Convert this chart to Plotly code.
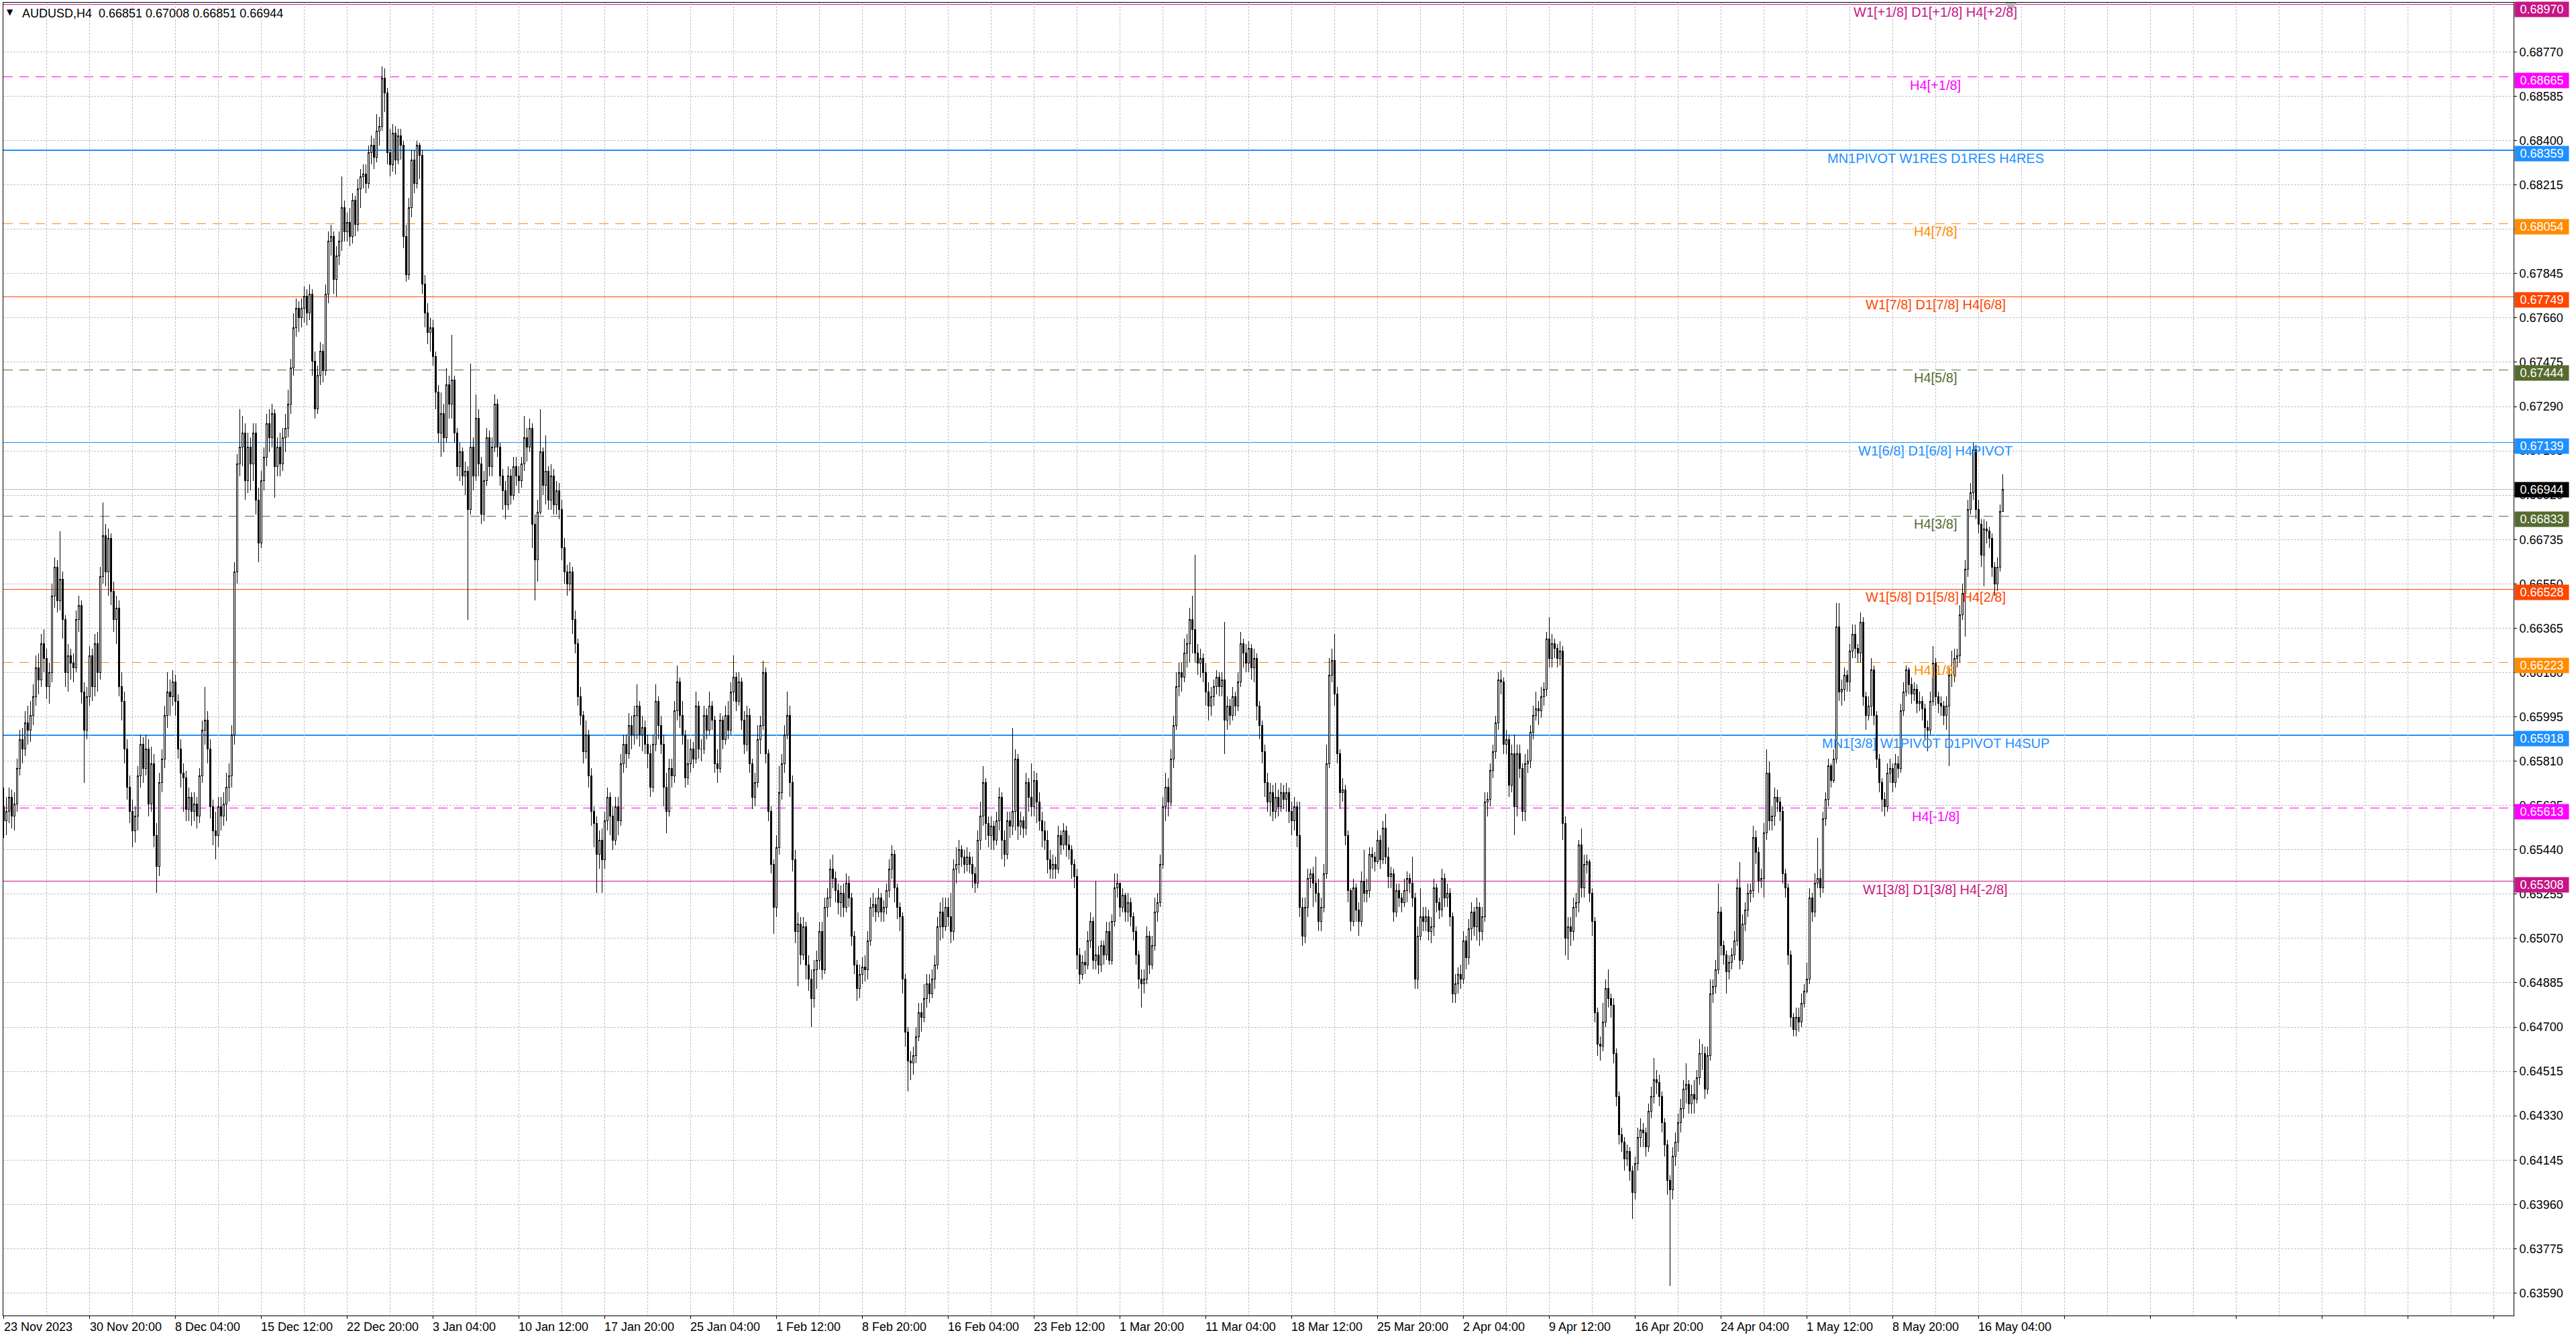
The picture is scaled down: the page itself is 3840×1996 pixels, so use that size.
import plotly.graph_objects as go

# ---------------- data (prices in pips, 1 pip = 0.0001) ----------------
first_open = 6562
closes = [
6556,6560,6566,6558,6563,6578,6590,6586,6597,6594,
6600,6608,6620,6615,6630,6624,6612,6618,6650,6662,
6648,6657,6640,6618,6625,6622,6620,6640,6646,6610,
6594,6608,6625,6612,6630,6618,6658,6675,6660,6674,
6652,6640,6645,6612,6606,6586,6570,6560,6552,6558,
6575,6588,6578,6586,6563,6580,6550,6537,6572,6582,
6600,6610,6608,6614,6606,6586,6576,6574,6561,6566,
6560,6563,6558,6575,6594,6598,6586,6562,6552,6550,
6562,6558,6563,6570,6575,6592,6660,6705,6712,6718,
6698,6712,6705,6718,6690,6672,6698,6708,6722,6716,
6726,6704,6712,6705,6716,6720,6730,6745,6762,6770,
6766,6770,6775,6768,6776,6748,6728,6742,6752,6744,
6776,6798,6800,6782,6792,6798,6812,6802,6806,6800,
6815,6805,6820,6825,6826,6822,6835,6838,6833,6844,
6846,6866,6860,6835,6830,6843,6832,6842,6838,6800,
6784,6812,6832,6822,6838,6834,6780,6768,6760,6762,
6750,6735,6718,6726,6716,6738,6730,6740,6718,6704,
6710,6700,6702,6686,6712,6700,6724,6705,6684,6698,
6716,6704,6712,6730,6712,6700,6694,6688,6700,6692,
6704,6700,6698,6705,6716,6712,6720,6680,6665,6685,
6710,6696,6702,6690,6700,6688,6694,6686,6670,6660,
6655,6660,6640,6630,6608,6600,6585,6592,6575,6560,
6555,6542,6548,6540,6556,6566,6558,6548,6562,6556,
6580,6588,6584,6596,6592,6600,6604,6592,6595,6588,
6584,6570,6588,6606,6596,6588,6570,6560,6578,6575,
6602,6614,6600,6592,6574,6580,6586,6582,6604,6586,
6586,6600,6594,6604,6598,6580,6578,6598,6590,6600,
6594,6610,6616,6606,6614,6598,6588,6600,6580,6566,
6572,6590,6596,6618,6584,6560,6538,6520,6545,6568,
6580,6592,6600,6572,6540,6510,6513,6500,6512,6496,
6490,6482,6494,6498,6510,6494,6520,6524,6536,6532,
6527,6522,6526,6520,6530,6524,6508,6496,6486,6492,
6495,6494,6506,6520,6521,6518,6524,6518,6520,6527,
6536,6542,6528,6520,6516,6490,6468,6456,6455,6458,
6466,6476,6474,6482,6488,6484,6490,6496,6512,6518,
6512,6520,6516,6510,6536,6538,6544,6541,6538,6541,
6538,6534,6530,6548,6558,6572,6555,6550,6554,6548,
6556,6566,6548,6542,6556,6554,6560,6582,6554,6556,
6553,6572,6566,6562,6573,6564,6556,6552,6548,6540,
6536,6538,6536,6550,6546,6552,6546,6544,6538,6533,
6500,6492,6497,6496,6506,6514,6498,6500,6496,6504,
6500,6510,6498,6514,6528,6530,6520,6525,6518,6522,
6516,6510,6500,6490,6488,6490,6508,6496,6504,6518,
6522,6538,6562,6570,6564,6582,6596,6612,6618,6616,
6626,6630,6640,6636,6626,6622,6624,6618,6610,6604,
6608,6612,6616,6612,6615,6598,6604,6600,6608,6604,
6614,6630,6626,6622,6628,6620,6624,6604,6596,6585,
6572,6564,6568,6560,6566,6562,6568,6565,6568,6560,
6556,6562,6550,6520,6508,6520,6532,6534,6530,6526,
6514,6520,6534,6580,6617,6623,6609,6584,6568,6569,
6550,6527,6514,6528,6519,6514,6531,6526,6527,6542,
6541,6539,6548,6540,6553,6541,6533,6534,6518,6527,
6524,6522,6527,6532,6530,6524,6490,6508,6516,6514,
6516,6510,6512,6528,6522,6519,6532,6524,6526,6516,
6484,6488,6492,6490,6506,6499,6511,6518,6512,6520,
6510,6516,6564,6565,6577,6585,6597,6615,6614,6588,
6590,6571,6584,6562,6584,6578,6560,6580,6581,6593,
6600,6603,6602,6608,6611,6632,6624,6630,6628,6624,
6627,6555,6507,6512,6510,6520,6522,6546,6528,6538,
6539,6526,6514,6476,6463,6462,6472,6486,6482,6479,
6459,6441,6425,6422,6415,6418,6410,6401,6413,6424,
6427,6426,6420,6435,6441,6448,6447,6441,6430,6421,
6406,6402,6416,6422,6430,6436,6444,6446,6438,6442,
6440,6449,6459,6459,6444,6458,6484,6487,6494,6518,
6504,6500,6493,6497,6500,6506,6528,6498,6513,6519,
6526,6527,6549,6543,6531,6532,6551,6576,6556,6558,
6566,6564,6560,6534,6528,6500,6474,6469,6474,6472,
6480,6485,6490,6524,6518,6530,6532,6528,6557,6565,
6579,6573,6582,6637,6610,6611,6617,6614,6627,6634,
6628,6626,6639,6608,6600,6604,6619,6600,6582,6572,
6565,6562,6576,6578,6572,6580,6578,6602,6610,6619,
6613,6609,6611,6605,6606,6603,6595,6594,6606,6622,
6608,6605,6604,6600,6604,6617,6617,6624,6625,6642,
6651,6661,6686,6693,6711,6686,6680,6667,6678,6677,
6674,6662,6655,6662,6685.1,6694.4]

highs = [
6570,6566,6570,6569,6568,6582,6594,6595,6602,6604,
6606,6613,6625,6626,6634,6636,6628,6622,6655,6666,
6665,6677,6660,6642,6630,6628,6626,6644,6650,6648,
6614,6612,6629,6628,6634,6635,6662,6689,6680,6678,
6676,6656,6650,6648,6618,6610,6590,6575,6565,6562,
6579,6592,6591,6592,6590,6587,6584,6555,6576,6586,
6604,6618,6615,6619,6617,6609,6590,6580,6577,6570,
6568,6568,6566,6578,6598,6612,6602,6590,6565,6560,
6566,6566,6568,6576,6580,6596,6664,6709,6728,6725,
6722,6718,6716,6722,6722,6695,6702,6712,6726,6728,
6730,6728,6716,6718,6720,6726,6736,6749,6768,6774,
6773,6774,6779,6778,6780,6778,6752,6746,6756,6755,
6780,6802,6805,6802,6796,6802,6825,6815,6810,6812,
6818,6817,6824,6828,6830,6830,6838,6842,6841,6851,
6850,6871,6870,6862,6845,6847,6846,6845,6845,6840,
6805,6816,6836,6836,6840,6839,6836,6784,6772,6766,
6765,6752,6738,6735,6730,6745,6742,6759,6742,6720,
6714,6712,6706,6704,6747,6716,6734,6728,6708,6702,
6720,6719,6716,6734,6732,6714,6703,6698,6704,6703,
6708,6708,6704,6708,6725,6720,6724,6722,6684,6690,
6728,6712,6717,6704,6705,6703,6698,6697,6690,6674,
6663,6664,6662,6644,6632,6612,6602,6598,6594,6578,
6562,6558,6552,6553,6560,6570,6568,6562,6566,6566,
6584,6592,6592,6601,6600,6604,6613,6606,6600,6598,
6592,6588,6592,6613,6608,6600,6592,6576,6582,6582,
6606,6621,6616,6606,6594,6590,6590,6589,6610,6606,
6590,6604,6603,6610,6606,6600,6586,6601,6600,6604,
6606,6614,6625,6618,6618,6616,6602,6604,6603,6582,
6576,6596,6600,6623,6620,6586,6562,6540,6550,6579,
6584,6596,6610,6604,6575,6544,6518,6516,6516,6514,
6500,6494,6498,6502,6514,6514,6524,6528,6540,6542,
6535,6530,6529,6530,6534,6533,6526,6510,6498,6496,
6499,6500,6510,6524,6526,6524,6528,6526,6523,6530,
6540,6546,6544,6530,6522,6518,6492,6470,6460,6462,
6470,6480,6480,6488,6492,6492,6494,6500,6516,6522,
6524,6524,6524,6526,6540,6545,6548,6546,6544,6545,
6543,6541,6537,6552,6564,6579,6574,6558,6558,6556,
6560,6570,6568,6552,6560,6560,6595,6586,6584,6560,
6558,6576,6574,6580,6577,6576,6568,6560,6556,6552,
6544,6542,6541,6554,6552,6555,6554,6550,6546,6540,
6536,6503,6500,6502,6510,6518,6516,6531,6504,6506,
6506,6514,6514,6517,6534,6534,6530,6528,6526,6526,
6524,6518,6512,6502,6494,6494,6512,6510,6508,6524,
6526,6542,6566,6576,6574,6586,6600,6618,6622,6622,
6632,6634,6645,6650,6667,6630,6628,6626,6622,6614,
6612,6615,6619,6618,6618,6639,6608,6607,6612,6610,
6618,6635,6632,6630,6631,6630,6628,6626,6606,6598,
6588,6576,6572,6571,6572,6569,6572,6571,6572,6570,
6564,6566,6564,6564,6524,6524,6536,6536,6537,6541,
6532,6524,6538,6588,6624,6628,6634,6612,6586,6574,
6571,6552,6528,6532,6530,6522,6535,6544,6532,6545,
6545,6543,6552,6550,6556,6559,6545,6537,6536,6530,
6530,6526,6532,6535,6534,6541,6526,6512,6528,6520,
6520,6519,6516,6532,6530,6524,6536,6534,6530,6528,
6518,6492,6495,6496,6510,6508,6515,6522,6520,6524,
6522,6520,6568,6568,6580,6588,6600,6618,6619,6616,
6594,6592,6588,6592,6588,6588,6580,6584,6586,6596,
6604,6610,6606,6612,6614,6635,6641,6634,6632,6630,
6631,6629,6558,6516,6516,6524,6526,6548,6553,6542,
6542,6540,6528,6516,6478,6466,6480,6490,6494,6484,
6482,6461,6443,6428,6424,6421,6420,6412,6416,6428,
6432,6430,6428,6438,6445,6457,6452,6450,6443,6432,
6423,6408,6420,6426,6434,6440,6448,6455,6448,6446,
6448,6452,6465,6463,6462,6462,6490,6490,6498,6530,
6520,6506,6502,6500,6503,6510,6532,6539,6517,6522,
6530,6530,6554,6552,6545,6536,6555,6586,6581,6562,
6570,6569,6566,6562,6536,6530,6502,6476,6478,6478,
6484,6488,6497,6528,6526,6534,6549,6536,6560,6568,
6582,6580,6586,6647,6647,6615,6620,6619,6630,6638,
6638,6630,6643,6641,6610,6608,6624,6621,6602,6584,
6574,6568,6580,6582,6580,6584,6583,6605,6614,6621,
6620,6616,6614,6613,6610,6608,6605,6598,6610,6629,
6624,6610,6608,6606,6608,6620,6627,6628,6628,6646,
6655,6665,6690,6697,6714,6713,6690,6682,6682,6681,
6679,6676,6664,6666,6688,6700.8]

lows = [
6549,6550,6555,6553,6552,6560,6575,6580,6583,6588,
6589,6596,6604,6609,6612,6618,6607,6605,6614,6645,
6643,6644,6632,6612,6610,6615,6614,6618,6635,6605,
6572,6590,6604,6606,6608,6610,6615,6655,6654,6650,
6646,6635,6630,6608,6598,6580,6565,6555,6545,6547,
6552,6570,6572,6575,6558,6560,6545,6526,6533,6568,
6578,6595,6600,6604,6600,6582,6570,6560,6556,6556,
6554,6556,6553,6555,6572,6588,6580,6557,6546,6540,
6545,6552,6554,6556,6564,6570,6588,6655,6700,6704,
6690,6693,6694,6698,6684,6664,6670,6694,6704,6710,
6712,6691,6700,6700,6702,6710,6716,6726,6742,6758,
6760,6762,6764,6763,6765,6742,6724,6726,6738,6739,
6742,6772,6792,6776,6775,6788,6794,6798,6798,6796,
6797,6800,6802,6812,6820,6818,6820,6830,6828,6831,
6838,6844,6852,6830,6825,6827,6826,6830,6832,6795,
6781,6782,6808,6818,6820,6824,6776,6762,6755,6752,
6746,6728,6714,6708,6710,6714,6724,6724,6714,6700,
6698,6696,6692,6640,6684,6694,6698,6700,6680,6681,
6696,6700,6700,6710,6708,6696,6686,6682,6686,6688,
6690,6696,6693,6695,6702,6706,6710,6670,6648,6656,
6684,6692,6688,6686,6686,6684,6684,6682,6665,6655,
6650,6652,6634,6626,6604,6596,6580,6582,6570,6554,
6545,6526,6536,6526,6536,6552,6550,6544,6546,6550,
6554,6576,6578,6582,6586,6588,6590,6587,6585,6584,
6578,6566,6568,6585,6590,6584,6562,6551,6558,6570,
6572,6598,6595,6588,6570,6571,6576,6578,6580,6582,
6581,6584,6590,6592,6594,6576,6572,6576,6586,6588,
6590,6592,6606,6602,6604,6594,6584,6585,6576,6561,
6562,6570,6584,6594,6580,6556,6534,6509,6516,6542,
6565,6576,6590,6566,6535,6505,6487,6496,6498,6490,
6485,6470,6478,6486,6494,6490,6492,6516,6520,6528,
6522,6517,6516,6516,6518,6520,6504,6492,6481,6482,
6488,6489,6490,6504,6516,6514,6516,6514,6514,6517,
6524,6532,6522,6515,6510,6484,6462,6443,6448,6450,
6455,6464,6468,6472,6478,6480,6482,6486,6494,6506,
6507,6510,6512,6505,6506,6530,6534,6537,6534,6535,
6534,6528,6526,6528,6544,6554,6548,6545,6544,6544,
6546,6552,6540,6537,6540,6549,6550,6552,6548,6550,
6549,6550,6560,6558,6558,6555,6552,6545,6544,6534,
6532,6532,6532,6534,6542,6544,6541,6540,6532,6528,
6494,6488,6490,6492,6494,6503,6494,6494,6492,6493,
6496,6498,6496,6496,6512,6524,6516,6518,6514,6514,
6512,6506,6496,6486,6478,6484,6488,6492,6494,6502,
6514,6520,6536,6556,6558,6562,6578,6594,6608,6610,
6614,6620,6622,6626,6622,6617,6616,6614,6604,6598,
6600,6604,6609,6608,6608,6584,6594,6596,6598,6600,
6602,6612,6620,6618,6618,6615,6614,6598,6590,6580,
6566,6560,6558,6556,6557,6558,6560,6561,6560,6555,
6550,6552,6545,6516,6504,6505,6516,6528,6520,6522,
6510,6510,6518,6532,6578,6614,6604,6580,6561,6564,
6546,6522,6510,6512,6514,6508,6512,6522,6522,6524,
6536,6535,6538,6536,6538,6538,6528,6528,6514,6516,
6520,6518,6520,6522,6526,6520,6486,6486,6506,6510,
6510,6506,6505,6508,6518,6515,6516,6520,6520,6512,
6480,6480,6484,6486,6488,6494,6496,6506,6508,6506,
6504,6506,6514,6558,6562,6574,6582,6594,6609,6584,
6584,6566,6568,6550,6558,6574,6556,6556,6576,6578,
6590,6598,6596,6599,6604,6608,6620,6620,6624,6620,
6621,6548,6500,6498,6504,6506,6516,6518,6524,6524,
6534,6522,6508,6472,6458,6456,6460,6470,6478,6474,
6455,6437,6421,6418,6410,6412,6406,6390,6398,6410,
6420,6420,6416,6418,6432,6438,6442,6437,6426,6416,
6400,6362,6398,6412,6418,6426,6432,6438,6434,6434,
6434,6438,6446,6452,6440,6442,6456,6480,6484,6492,
6500,6496,6484,6490,6494,6498,6504,6494,6496,6510,
6516,6522,6524,6538,6526,6528,6524,6548,6552,6552,
6554,6560,6556,6530,6524,6496,6470,6466,6466,6468,
6470,6478,6484,6488,6514,6516,6528,6524,6526,6554,
6562,6570,6572,6580,6606,6604,6606,6610,6610,6624,
6624,6622,6622,6604,6594,6598,6600,6596,6578,6568,
6560,6558,6560,6572,6568,6570,6574,6576,6600,6608,
6609,6605,6606,6601,6602,6598,6590,6585,6592,6604,
6604,6601,6600,6596,6594,6579,6612,6614,6620,6622,
6640,6633,6658,6684,6690,6682,6676,6662,6654,6672,
6670,6658,6650,6652,6660,6685.1]

time_labels = ["23 Nov 2023", "30 Nov 20:00", "8 Dec 04:00", "15 Dec 12:00", "22 Dec 20:00",
               "3 Jan 04:00", "10 Jan 12:00", "17 Jan 20:00", "25 Jan 04:00", "1 Feb 12:00",
               "8 Feb 20:00", "16 Feb 04:00", "23 Feb 12:00", "1 Mar 20:00", "11 Mar 04:00",
               "18 Mar 12:00", "25 Mar 20:00", "2 Apr 04:00", "9 Apr 12:00", "16 Apr 20:00",
               "24 Apr 04:00", "1 May 12:00", "8 May 20:00", "16 May 04:00"]
bars_per_label = 32

price_ticks = [0.63590, 0.63775, 0.63960, 0.64145, 0.64330, 0.64515, 0.64700, 0.64885,
               0.65070, 0.65255, 0.65440, 0.65625, 0.65810, 0.65995, 0.66180, 0.66365,
               0.66550, 0.66735, 0.66920, 0.67105, 0.67290, 0.67475, 0.67660, 0.67845,
               0.68030, 0.68215, 0.68400, 0.68585, 0.68770]

level_values = [0.68970, 0.68665, 0.68359, 0.68054, 0.67749, 0.67444, 0.67139,
                0.66833, 0.66528, 0.66223, 0.65918, 0.65613, 0.65308]
level_texts = ["W1[+1/8] D1[+1/8] H4[+2/8]", "H4[+1/8]", "MN1PIVOT W1RES D1RES H4RES",
               "H4[7/8]", "W1[7/8] D1[7/8] H4[6/8]", "H4[5/8]", "W1[6/8] D1[6/8] H4PIVOT",
               "H4[3/8]", "W1[5/8] D1[5/8] H4[2/8]", "H4[1/8]",
               "MN1[3/8] W1PIVOT D1PIVOT H4SUP", "H4[-1/8]", "W1[3/8] D1[3/8] H4[-2/8]"]
level_colors = ["#C71585", "#FF00FF", "#1E90FF", "#FF8C00", "#FF4500", "#556B2F", "#1E90FF",
                "#556B2F", "#FF4500", "#FF8C00", "#1E90FF", "#FF00FF", "#C71585"]
level_dashed = [False, True, False, True, False, True, False, True, False, True, False, True, False]
level_widths = [1, 1, 2, 1, 1, 1, 1, 1, 1, 1, 2, 1, 1]

symbol = "AUDUSD,H4"
last_price = 0.66944

# ---------------- build ----------------
n = len(closes)
assert len(highs) == n and len(lows) == n, (n, len(highs), len(lows))
opens_p = [first_open] + closes[:-1]
o = [v / 10000 for v in opens_p]
c = [v / 10000 for v in closes]
h = [max(a, b, x / 10000) for a, b, x in zip(o, c, highs)]
l = [min(a, b, x / 10000) for a, b, x in zip(o, c, lows)]
xs = list(range(n))

FONT = "Arial, Liberation Sans, sans-serif"
GRID = "#C0C0C0"

fig = go.Figure()
fig.add_trace(go.Candlestick(
    x=xs, open=o, high=h, low=l, close=c,
    increasing=dict(line=dict(color="black", width=1), fillcolor="white"),
    decreasing=dict(line=dict(color="black", width=1), fillcolor="black"),
    whiskerwidth=0, showlegend=False, hoverinfo="skip"))

shapes = []
for v, col, dsh, w in zip(level_values, level_colors, level_dashed, level_widths):
    shapes.append(dict(type="line", xref="paper", x0=0, x1=1, yref="y", y0=v, y1=v,
                       layer="between",
                       line=dict(color=col, width=w, dash="14px,10px" if dsh else "solid")))
shapes.append(dict(type="line", xref="paper", x0=0, x1=1, yref="y", y0=last_price, y1=last_price,
                   layer="between", line=dict(color="#C0C0C0", width=1)))
# chart-shift marker at the top frame
shapes.append(dict(type="path", xref="x", yref="paper", xsizemode="pixel", ysizemode="pixel",
                   xanchor=n + 2, yanchor=1, path="M -8.5 0 L 8.5 0 L 0 -12 Z",
                   fillcolor="#B4B4B4", line=dict(width=0)))

annotations = []
label_x = 720
for v, t, col in zip(level_values, level_texts, level_colors):
    annotations.append(dict(x=label_x, y=v, xref="x", yref="y", text=t, showarrow=False,
                            xanchor="center", yanchor="middle", yshift=-12,
                            font=dict(family=FONT, size=20, color=col)))

box_vals = level_values[:7] + [last_price] + level_values[7:]
box_cols = level_colors[:7] + ["#000000"] + level_colors[7:]
for v, col in zip(box_vals, box_cols):
    if v == max(box_vals):
        ys = -8
    elif v == last_price:
        ys = 0
    else:
        ys = -5
    annotations.append(dict(x=1, y=v, xref="paper", yref="y", text=f"{v:.5f}", showarrow=False,
                            xanchor="left", yanchor="middle", xshift=1, yshift=ys,
                            width=76, height=18, borderpad=2, align="center",
                            bgcolor=col, font=dict(family=FONT, size=18, color="white")))

for k, t in enumerate(time_labels):
    annotations.append(dict(x=k * bars_per_label, y=0, xref="x", yref="paper", text=t,
                            showarrow=False, xanchor="left", yanchor="middle", yshift=-17,
                            xshift=-2, font=dict(family=FONT, size=18, color="black")))

annotations.append(dict(x=0, y=1, xref="paper", yref="paper",
                        text=symbol + "\u00a0\u00a0" + " ".join(f"{v / 10000:.5f}" for v in
                                                              [opens_p[-1], highs[-1], lows[-1], closes[-1]]),
                        showarrow=False, xanchor="left", yanchor="middle", xshift=26, yshift=-16,
                        font=dict(family=FONT, size=18, color="black")))
annotations.append(dict(x=0, y=1, xref="paper", yref="paper", text="\u25BC", showarrow=False,
                        xanchor="left", yanchor="middle", xshift=3, yshift=-14,
                        font=dict(family="DejaVu Sans", size=12, color="black")))

fig.update_layout(
    width=3840, height=1996,
    margin=dict(l=5, r=93, t=4, b=35),
    paper_bgcolor="white", plot_bgcolor="white",
    shapes=shapes, annotations=annotations,
    showlegend=False,
    boxgap=0.5, boxgroupgap=0,
    xaxis=dict(range=[-0.125, 935.4], rangeslider=dict(visible=False),
               tickmode="array", tickvals=list(range(0, 936, bars_per_label)),
               showticklabels=False, ticks="outside", ticklen=4, tickcolor="black",
               showgrid=True, gridcolor=GRID, griddash="3px,2px", gridwidth=1,
               minor=dict(tick0=0, dtick=16, showgrid=True, gridcolor=GRID,
                          griddash="3px,2px", gridwidth=1, ticks=""),
               showline=True, mirror=True, linecolor="black", linewidth=1,
               zeroline=False, fixedrange=True),
    yaxis=dict(side="right", range=[0.63496, 0.689756],
               tickmode="array", tickvals=price_ticks,
               ticktext=[f"{v:.5f}" for v in price_ticks],
               tickfont=dict(family=FONT, size=18, color="black"),
               ticks="outside", ticklen=4, tickcolor="black",
               showgrid=True, gridcolor=GRID, griddash="3px,2px", gridwidth=1,
               showline=True, mirror=True, linecolor="black", linewidth=1,
               zeroline=False, fixedrange=True),
)

crisp_css = (".shapelayer path,.gridlayer path,.minor-gridlayer path,.boxlayer path"
             "{shape-rendering:crispEdges}")
fig.write_html("out.html", config={"displayModeBar": False, "staticPlot": True},
               post_script=("document.body.style.margin='0';document.body.style.overflow='hidden';"
                            "var s=document.createElement('style');s.textContent='" + crisp_css + "';"
                            "document.head.appendChild(s);"))
